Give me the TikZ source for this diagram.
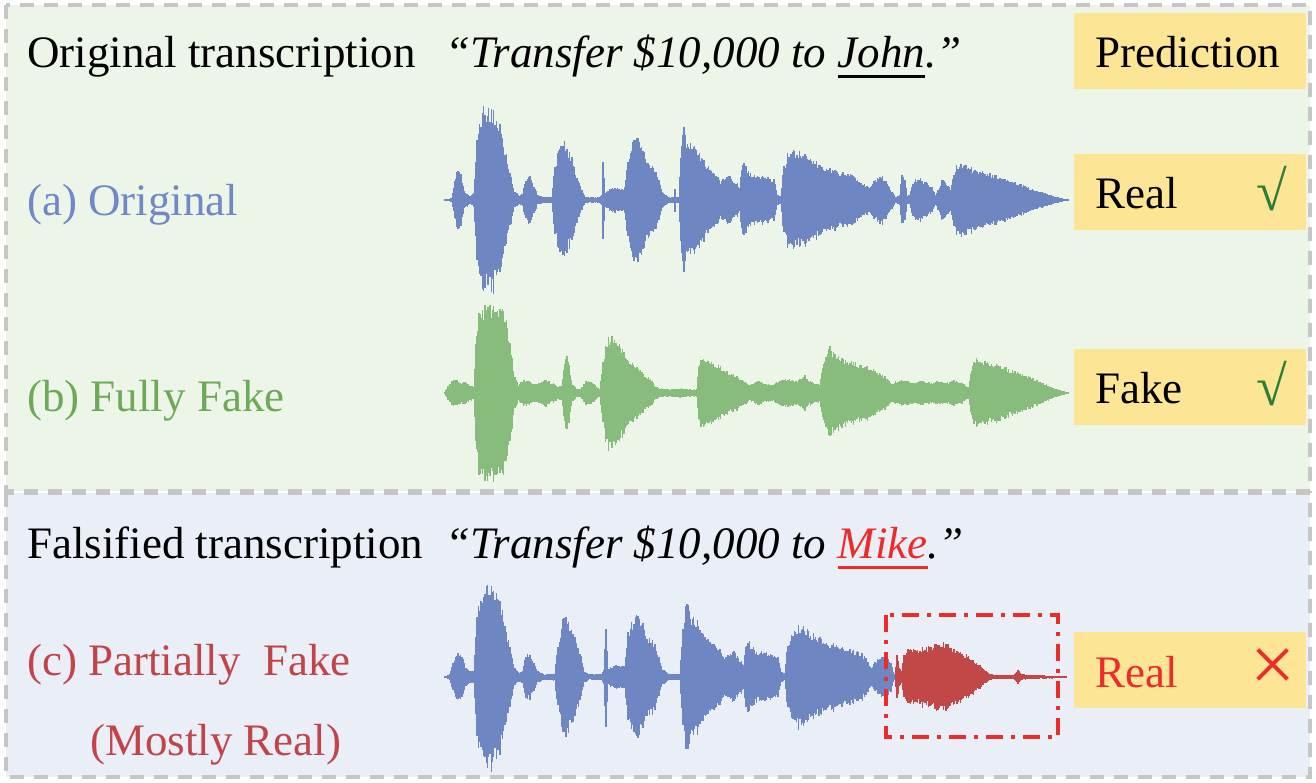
\documentclass[tikz,border=0pt]{standalone}
\usepackage{fontspec}
\setmainfont{Liberation Serif}
\definecolor{panelG}{HTML}{EDF5E8}
\definecolor{panelB}{HTML}{E9EEF7}
\definecolor{borderC}{HTML}{C6C6C6}
\definecolor{boxY}{HTML}{FDE596}
\definecolor{waveBlue}{HTML}{6E87C2}
\definecolor{waveGreen}{HTML}{88BC7C}
\definecolor{waveRed}{HTML}{C24848}
\definecolor{labBlue}{HTML}{7088C8}
\definecolor{labGreen}{HTML}{6CAA58}
\definecolor{labRed}{HTML}{C14548}
\definecolor{checkG}{HTML}{2E7D3A}
\definecolor{xRed}{HTML}{EE2B2B}
\newlength\ulw
\newcommand\myul[2]{\settowidth\ulw{#2}\rlap{\textcolor{#1}{\rule[-11pt]{\ulw}{3pt}}}#2}
\newcommand\wavef[4]{%
  \foreach \x/\a [remember=\x as \px (initially #3), remember=\a as \pa (initially 0)] in {#4} {
    \pgfmathtruncatemacro\nn{max(1,round((\x-\px)/1.2))}
    \foreach \i in {1,...,\nn} {
      \pgfmathsetmacro\xx{\px+\i*((\x-\px)/\nn)}
      \pgfmathsetmacro\wa{(\pa+\i*((\a-\pa)/\nn))*(0.8+0.2*rnd)+0.8}
      \pgfmathsetmacro\wb{\wa*(0.92+0.12*rnd)}
      \draw[#1, line width=1.3pt] (\xx,#2-\wa) -- (\xx,#2+\wb);
    }
  }
}
\tikzset{
  txt/.style={anchor=base west, inner sep=0pt, font=\fontsize{45}{54}\selectfont},
  predbox/.style={fill=boxY, draw=none, anchor=north west, minimum width=232pt, minimum height=76pt, inner sep=0pt},
  panel/.style={draw=borderC, line width=4pt, dash pattern=on 14pt off 10pt},
  fakebox/.style={draw=xRed, line width=4pt, dash pattern=on 17pt off 8pt on 4pt off 8pt},
}
\begin{document}
\begin{tikzpicture}[x=1pt,y=-1pt]
\pgfmathsetseed{7}
\useasboundingbox (0,0) rectangle (1316,782);
\fill[white] (0,0) rectangle (1316,782);
% panels
\fill[panelG] (6,5) rectangle (1310,491);
\fill[panelB] (6,493) rectangle (1310,777);
\draw[panel] (6,5) rectangle (1310,491);
\draw[panel] (6,493) rectangle (1310,777);

% headings
\node[txt] (orighead) at (27,67) {Original transcription};
\node[txt, font=\fontsize{45}{54}\selectfont\itshape] (origquote) at (445,67) {“Transfer \$10,000 to \myul{black}{John}.”};
\node[txt] (falshead) at (27,558) {Falsified transcription};
\node[txt, font=\fontsize{45}{54}\selectfont\itshape] (falsquote) at (445,558) {“Transfer \$10,000 to \myul{xRed}{\textcolor{xRed}{Mike}}.”};

% labels
\node[txt, text=labBlue] (laba) at (27,215) {(a) Original};
\node[txt, text=labGreen] (labb) at (27,411) {(b) Fully Fake};
\node[txt, text=labRed] (labc) at (27,675) {(c) Partially~~Fake};
\node[txt, text=labRed] (labc2) at (90,755) {(Mostly Real)};

% prediction boxes
\node[predbox] (predhead) at (1074,13) {};
\node[predbox] (preda) at (1074,154) {};
\node[predbox] (predb) at (1074,349) {};
\node[predbox] (predc) at (1074,632) {};
\node[txt] (predtxt) at (1095,67) {Prediction};
\node[txt] (reala) at (1095,208) {Real};
\node[txt, text=checkG, font=\fontsize{56}{60}\selectfont] (checka) at (1256,210) {√};
\node[txt] (fakeb) at (1095,403) {Fake};
\node[txt, text=checkG, font=\fontsize{56}{60}\selectfont] (checkb) at (1256,405) {√};
\node[txt, text=xRed] (realc) at (1095,687) {Real};
\node[anchor=center, inner sep=0pt, text=xRed, font=\fontsize{80}{80}\selectfont] (crossc) at (1273,670) {×};

% waveform (a)
\draw[waveBlue, line width=1.5pt] (445,200) -- (1068,200);
\wavef{waveBlue}{200}{445}{445/0, 452/1, 455/20, 458/33, 461/25, 464/8, 470/4, 474/6, 477/60, 481/90, 485/97, 490/95, 495/92, 500/80, 505/55, 510/30, 515/8, 520/4, 523/6, 526/22, 530/24, 534/15, 537/5, 545/2, 552/3, 555/35, 560/60, 563/63, 567/55, 572/42, 577/25, 582/10, 586/2, 600/2, 602/5, 603/45, 605/5, 608/10, 615/12, 622/10, 625/12, 628/45, 634/62, 638/65, 643/55, 647/38, 651/38, 655/33, 659/20, 662/8, 670/2, 674/3, 675/13, 676/2, 679/3, 681/50, 684/83, 686/62, 692/60, 698/52, 704/40, 710/32, 716/28, 721/18, 724/22, 730/24, 736/18, 740/12, 742/35, 744/40, 747/30, 752/26, 760/25, 768/24, 774/20, 778/5, 781/3, 784/35, 789/50, 797/48, 803/52, 809/45, 815/40, 825/33, 835/30, 845/28, 852/25, 860/20, 866/15, 869/12, 874/20, 880/25, 886/20, 892/8, 896/3, 900/5, 902/26, 905/20, 907/4, 909/4, 913/18, 918/23, 925/18, 932/12, 936/5, 938/10, 943/23, 948/15, 951/8, 954/30, 958/37, 965/35, 975/32, 985/28, 995/25, 1005/22, 1015/18, 1025/14, 1035/10, 1045/6, 1055/3, 1062/1, 1068/0}

% waveform (b)
\draw[waveGreen, line width=1.5pt] (445,393) -- (1068,393);
\wavef{waveGreen}{393}{445}{445/0, 448/6, 452/12, 456/13, 460/10, 465/11, 470/8, 474/6, 476/50, 479/88, 485/90, 495/90, 505/85, 510/55, 515/15, 518/8, 522/12, 528/13, 534/9, 540/10, 546/13, 552/10, 558/6, 562/8, 565/30, 567/43, 569/28, 573/8, 578/3, 583/6, 586/12, 590/13, 594/9, 597/5, 600/4, 603/30, 607/55, 612/58, 618/52, 624/42, 630/32, 638/24, 646/18, 652/12, 656/6, 660/4, 670/3, 680/4, 690/3, 697/3, 699/30, 702/37, 708/34, 715/30, 722/25, 730/20, 738/16, 745/12, 750/8, 758/12, 765/9, 772/8, 780/12, 788/14, 796/12, 802/16, 805/18, 808/12, 815/10, 820/8, 823/30, 826/40, 830/47, 835/40, 842/36, 850/33, 857/30, 863/30, 870/26, 877/22, 885/16, 892/10, 900/12, 908/13, 915/10, 922/12, 930/10, 938/11, 946/10, 954/13, 962/10, 968/6, 972/25, 975/35, 980/33, 990/30, 1000/28, 1010/24, 1020/20, 1030/16, 1040/11, 1050/6, 1058/3, 1064/1, 1068/0}

% waveform (c)
\draw[waveBlue, line width=1.5pt] (445,677) -- (895,677);
\draw[waveRed, line width=1.5pt] (895,677) -- (1066,677);
\wavef{waveBlue}{677}{445}{445/0, 450/2, 453/15, 458/27, 462/22, 466/10, 471/5, 474/6, 477/60, 481/90, 485/95, 490/93, 495/90, 500/80, 505/55, 510/30, 515/8, 520/4, 523/6, 526/22, 530/24, 534/15, 538/5, 545/2, 555/3, 558/35, 563/58, 566/60, 570/55, 575/42, 580/25, 585/5, 590/2, 602/2, 604/8, 606/50, 608/8, 612/10, 618/12, 622/11, 625/12, 628/45, 634/60, 638/63, 643/55, 647/38, 651/38, 655/33, 659/20, 662/8, 670/2, 680/3, 683/50, 687/88, 690/62, 696/60, 702/52, 708/40, 714/32, 720/28, 725/18, 728/24, 734/25, 740/18, 744/12, 746/35, 748/40, 752/30, 758/26, 765/25, 772/24, 778/20, 781/5, 785/3, 788/35, 793/50, 800/53, 806/50, 812/45, 820/40, 830/35, 840/32, 850/28, 860/25, 866/20, 872/8, 875/15, 880/20, 886/20, 891/15, 893/5, 895/0}
\wavef{waveRed}{677}{895}{896/10, 897/25, 899/10, 902/5, 904/25, 908/28, 915/28, 925/30, 935/32, 942/34, 946/36, 950/31, 958/28, 965/23, 972/18, 980/12, 986/6, 991/2, 1000/1, 1014/1, 1016/4, 1018/7, 1020/4, 1024/2, 1035/1, 1064/0.5, 1066/0}
\draw[fakebox] (886,615) rectangle (1058,737);
\end{tikzpicture}
\end{document}
